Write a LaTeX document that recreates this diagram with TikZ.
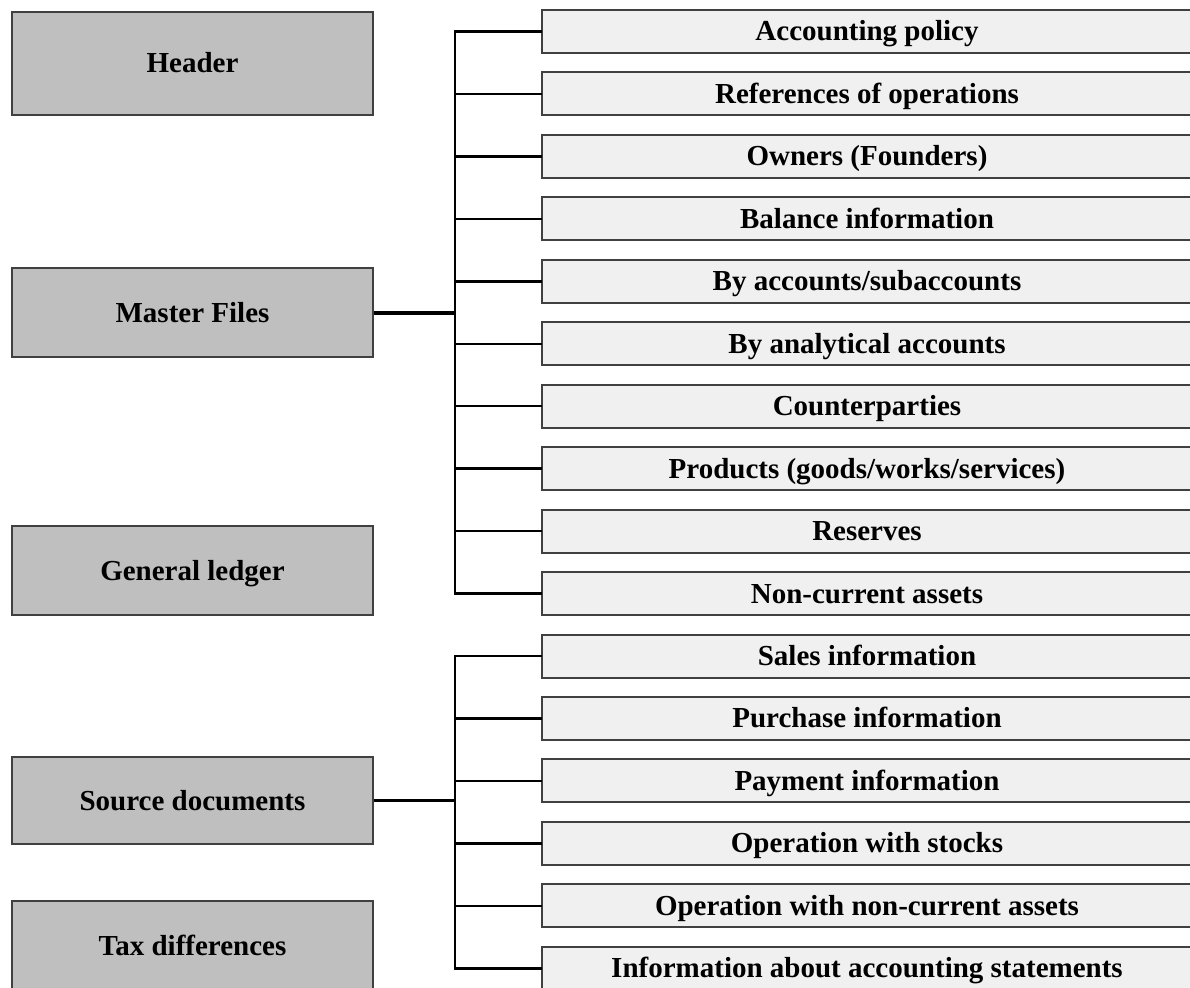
\documentclass[tikz,border=0pt]{standalone}
\usepackage{fontspec}
\setmainfont{Liberation Serif}
\begin{document}
\begin{tikzpicture}[x=1pt,y=-1pt,
  leftbox/.style={draw=black!75, line width=2pt, fill=black!25, minimum width=361pt, inner sep=0pt, text height=19pt, text depth=0pt, font=\fontsize{29}{34}\selectfont\bfseries},
  rightbox/.style={draw=black!75, line width=2pt, fill=black!6, minimum width=650pt, minimum height=43pt, inner sep=0pt, text height=19pt, text depth=0pt, font=\fontsize{29}{34}\selectfont\bfseries},
  conn/.style={draw=black, line width=2.5pt, line cap=rect},
  mainconn/.style={draw=black, line width=4pt}]
\useasboundingbox (0,0) rectangle (1190,987);
\clip (0,0) rectangle (1190,987);
% left boxes
\node[leftbox, minimum height=103pt] (hdr) at (192.5,63.5) {Header};
\node[leftbox, minimum height=89pt] (mf) at (192.5,312.5) {Master Files};
\node[leftbox, minimum height=89pt] (gl) at (192.5,570.5) {General ledger};
\node[leftbox, minimum height=87pt] (sd) at (192.5,800.5) {Source documents};
\node[leftbox, minimum height=89pt] (td) at (192.5,945.5) {Tax differences};
% trunk x reference
\coordinate (tx) at (455,0);
% right boxes
\foreach \k/\t in {1/{Accounting policy}, 2/{References of operations}, 3/{Owners (Founders)}, 4/{Balance information}, 5/{By accounts/subaccounts}, 6/{By analytical accounts}, 7/{Counterparties}, 8/{Products (goods/works/services)}, 9/{Reserves}, 10/{Non-current assets}, 11/{Sales information}, 12/{Purchase information}, 13/{Payment information}, 14/{Operation with stocks}, 15/{Operation with non-current assets}, 16/{Information about accounting statements}}{
  \node[rightbox] (r\k) at (867,{31.5+62.45*(\k-1)}) {\t};
  \draw[conn] (r\k.west) -- (r\k.west -| tx);
}
% trunks
\draw[conn] (r1.west -| tx) -- (r10.west -| tx);
\draw[conn] (r11.west -| tx) -- (r16.west -| tx);
% main connectors
\draw[mainconn] (mf.east) -- (mf.east -| tx);
\draw[conn, line cap=butt] (sd.east) -- (sd.east -| tx);
\end{tikzpicture}
\end{document}
